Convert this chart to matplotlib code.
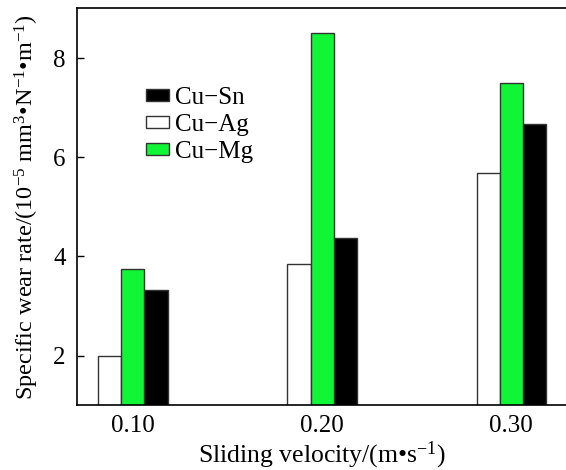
import numpy as np
import matplotlib
matplotlib.use('Agg')
import matplotlib.pyplot as plt

plt.rcParams['font.family'] = ['Liberation Serif', 'DejaVu Serif']
plt.rcParams['mathtext.fontset'] = 'custom'
plt.rcParams['mathtext.rm'] = 'Liberation Serif'
plt.rcParams['mathtext.it'] = 'Liberation Serif:italic'

# Data
velocities = ['0.10', '0.20', '0.30']
cu_ag = [2.00, 3.84, 5.69]
cu_mg = [3.74, 8.51, 7.50]
cu_sn = [3.32, 4.38, 6.66]

green = '#10f535'
edge = '#333333'


def main():
    fig = plt.figure(figsize=(5.66, 4.70), dpi=100)
    ax = fig.add_axes([0.136, 0.138, 0.864, 0.844])

    x = np.arange(len(velocities))
    w = 0.122
    b_sn = ax.bar(x + w, cu_sn, w, color='black', edgecolor=edge, linewidth=1.0, label='Cu\u2212Sn')
    b_ag = ax.bar(x - w, cu_ag, w, color='white', edgecolor=edge, linewidth=1.0, label='Cu\u2212Ag')
    b_mg = ax.bar(x, cu_mg, w, color=green, edgecolor=edge, linewidth=1.0, label='Cu\u2212Mg')

    ax.set_xlim(-0.296, 2.29)
    ax.set_ylim(1, 9)
    ax.set_yticks([2, 4, 6, 8])
    ax.set_xticks(x)
    ax.set_xticklabels(velocities)
    ax.tick_params(axis='y', direction='in', length=5, width=1, labelsize=18, pad=8)
    ax.tick_params(axis='x', length=0, labelsize=18, pad=7)

    for s in ['left', 'top', 'bottom']:
        ax.spines[s].set_linewidth(1.2)
    ax.spines['right'].set_visible(False)

    ax.set_xlabel('Sliding velocity/(m\u2022s$^{-1}$)', fontsize=18.5, labelpad=2)
    ax.set_ylabel('Specific wear rate/(10$^{-5}$ mm$^{3}$\u2022N$^{-1}$\u2022m$^{-1}$)', fontsize=17.5, labelpad=9)

    ax.legend(handles=[b_sn, b_ag, b_mg], loc='upper left', bbox_to_anchor=(0.142, 0.802),
              frameon=False, fontsize=18, handlelength=0.9, handleheight=0.4,
              handletextpad=0.25, labelspacing=0.2, borderpad=0, borderaxespad=0)

    fig.savefig('out.png', dpi=100)


main()
